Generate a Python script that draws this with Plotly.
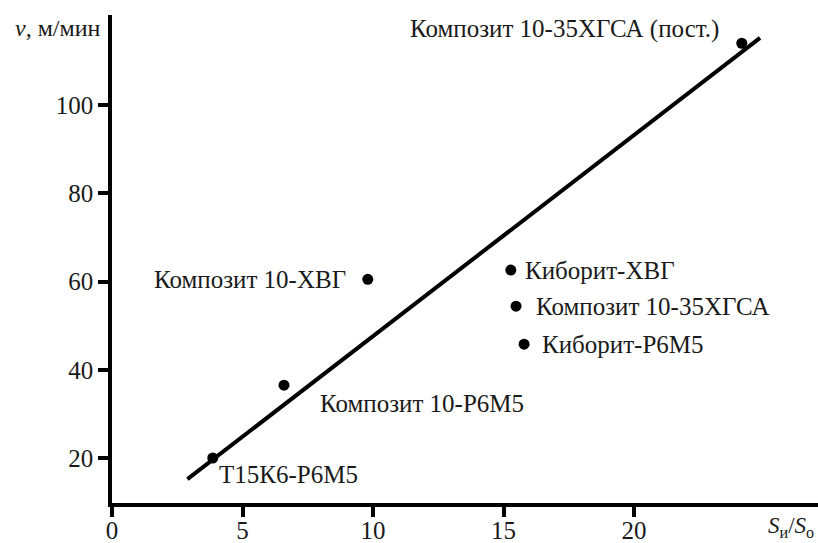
import plotly.graph_objects as go

# Data
labels = ["Т15К6-Р6М5", "Композит 10-Р6М5", "Композит 10-ХВГ", "Киборит-ХВГ",
          "Композит 10-35ХГСА", "Киборит-Р6М5", "Композит 10-35ХГСА (пост.)"]
ratio = [3.86, 6.59, 9.80, 15.28, 15.48, 15.79, 24.13]
speed = [20.0, 36.5, 60.5, 62.6, 54.4, 45.8, 114.0]

fit_x = [2.89, 24.83]
fit_y = [15.2, 115.2]

x_ticks = [0, 5, 10, 15, 20]
y_ticks = [20, 40, 60, 80, 100]

# label placement: (xanchor, xshift, yshift)
placement = [
    ("left", 4, -17),
    ("left", 34, -18),
    ("right", -20, 0),
    ("left", 12, 0),
    ("left", 18, 0),
    ("left", 16, 0),
    ("right", -21, 14),
]

FONT = "Liberation Serif"
TXT = "#1a1a1a"

fig = go.Figure()
fig.add_trace(go.Scatter(x=fit_x, y=fit_y, mode="lines",
                         line=dict(color="black", width=4), showlegend=False))
fig.add_trace(go.Scatter(x=ratio, y=speed, mode="markers",
                         marker=dict(color="black", size=11), showlegend=False))

for lab, xv, yv, (xa, xs, ys) in zip(labels, ratio, speed, placement):
    fig.add_annotation(x=xv, y=yv, text=lab, showarrow=False, xanchor=xa, yanchor="middle",
                       xshift=xs, yshift=ys, font=dict(family=FONT, size=25, color=TXT))

fig.add_annotation(xref="paper", yref="paper", x=0, y=1.0, text="<i>v</i>, м/мин",
                   showarrow=False, xanchor="right", yanchor="middle", xshift=-9, yshift=-13,
                   font=dict(family=FONT, size=24, color=TXT))
fig.add_annotation(xref="paper", yref="paper", x=1.0, y=0,
                   text="<i>S</i><sub>и</sub>/<i>S</i><sub>о</sub>",
                   showarrow=False, xanchor="right", yanchor="bottom", xshift=-2, yshift=-40,
                   font=dict(family=FONT, size=23, color=TXT))

axis_style = dict(showline=True, linecolor="black", linewidth=3.5, automargin=False,
                  ticks="outside", ticklen=10, tickwidth=3.5, tickcolor="black", showgrid=False,
                  zeroline=False, tickfont=dict(family=FONT, size=25, color=TXT))
fig.update_xaxes(range=[0, 27.05], tickvals=x_ticks, ticklabelstandoff=-8, **axis_style)
fig.update_yaxes(range=[9.8, 120.4], tickvals=y_ticks, **axis_style)

fig.update_layout(width=818, height=543, margin=dict(l=112, r=0, t=15, b=40),
                  plot_bgcolor="white", paper_bgcolor="white")

fig.write_html("out.html", config={"displayModeBar": False},
               post_script="document.body.style.margin='0';")
